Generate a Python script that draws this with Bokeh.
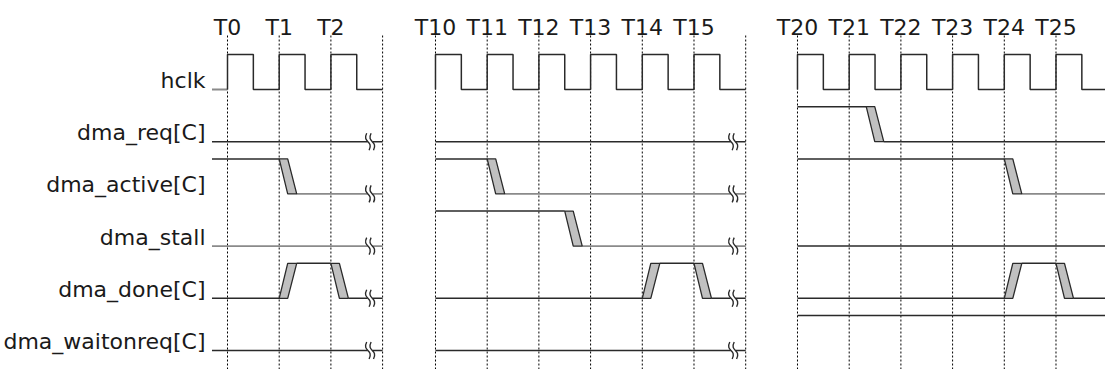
from bokeh.plotting import figure
from bokeh.models import Range1d
from bokeh.core.properties import value
from bokeh.embed import file_html
from bokeh.resources import INLINE

# ---------------- data ----------------
signals = ["hclk", "dma_req[C]", "dma_active[C]", "dma_stall", "dma_done[C]", "dma_waitonreq[C]"]

# three time windows of the diagram (in clock cycles)
panel_start = [-0.3, 10.0, 20.0]
panel_end = [3.0, 16.0, 26.0]

tick_cycles = [[0, 1, 2], [10, 11, 12, 13, 14, 15], [20, 21, 22, 23, 24, 25]]
tick_labels = [["T0", "T1", "T2"],
               ["T10", "T11", "T12", "T13", "T14", "T15"],
               ["T20", "T21", "T22", "T23", "T24", "T25"]]
grid_cycles = [[0, 1, 2, 3], [10, 11, 12, 13, 14, 15, 16], [20, 21, 22, 23, 24, 25]]

# hclk rising edges per window (falls half a cycle later)
clk_rise = [[0, 1, 2], [10, 11, 12, 13, 14, 15], [20, 21, 22, 23, 24, 25]]
clk_high_time = 0.5

# initial level of each signal in each window
init_level = {
    "dma_req[C]":       [0, 0, 1],
    "dma_active[C]":    [1, 1, 1],
    "dma_stall":        [0, 1, 0],
    "dma_done[C]":      [0, 0, 0],
    "dma_waitonreq[C]": [0, 0, 1],
}
# toggle times (cycles) of each signal in each window
toggles = {
    "dma_req[C]":       [[], [], [21.33]],
    "dma_active[C]":    [[1.0], [11.0], [24.0]],
    "dma_stall":        [[], [12.5], []],
    "dma_done[C]":      [[1.0, 2.0], [14.0, 15.0], [24.0, 25.0]],
    "dma_waitonreq[C]": [[], [], []],
}
# windows that end with a "time break" mark
break_panels = [0, 1]

# ---------------- layout / style ----------------
W, H = 1105, 369
PX = 51.7                 # pixels per cycle
X0 = 227                  # figure pixel of T0
panel_shift = [0.0, 4.023 - 10.0, 11.025 - 20.0]   # cycles -> diagram units
ROW_TOP = 54.0
ROW_PITCH = 52.2
SWING = 35.0
SLEW_A = 8.5 / PX
SLEW_B = 17.5 / PX
LABEL_X = (205 - X0) / PX
FONT = value("DejaVu Sans")
FSIZE = "22px"
DARK = "#2a2a2a"
GRAY = "#8a8a8a"
gray_low = {(0, "dma_active[C]"), (1, "dma_active[C]"), (2, "dma_active[C]"),
            (0, "dma_stall"), (1, "dma_stall")}


def ypos(row, level):
    top = ROW_TOP + ROW_PITCH * row
    return top if level == 1 else top + SWING


def u(panel, t):
    return t + panel_shift[panel]


p = figure(width=W, height=H, output_backend="svg", toolbar_location=None,
           x_range=Range1d(-X0 / PX, (W - X0) / PX), y_range=Range1d(H, 0),
           x_axis_type=None, y_axis_type=None, min_border=0,
           outline_line_color=None, background_fill_color="white",
           border_fill_color="white")
p.grid.visible = False

# dotted cycle lines
gx = [u(k, t) for k in range(3) for t in grid_cycles[k]]
p.segment(x0=gx, y0=[35] * len(gx), x1=gx, y1=[H] * len(gx),
          line_color="black", line_width=1, line_dash="2 2")

# time labels
tx = [u(k, t) for k in range(3) for t in tick_cycles[k]]
tt = [s for k in range(3) for s in tick_labels[k]]
p.text(x=tx, y=[27] * len(tx), text=tt, text_align="center", text_baseline="alphabetic",
       text_font=FONT, text_font_size=FSIZE, text_color="#1a1a1a")

# row labels
p.text(x=[LABEL_X] * len(signals), y=[ypos(i, 1) + 26 for i in range(len(signals))],
       text=signals, text_align="right", text_baseline="alphabetic",
       text_font=FONT, text_font_size=FSIZE, text_color="#1a1a1a")

# clock
for k in range(3):
    lo, hi = ypos(0, 0), ypos(0, 1)
    xs, ys = [], []
    start = panel_start[k]
    if start < clk_rise[k][0]:
        p.line([u(k, start), u(k, clk_rise[k][0])], [lo, lo], line_color=GRAY, line_width=1.8)
    for r in clk_rise[k]:
        xs += [u(k, r), u(k, r), u(k, r + clk_high_time), u(k, r + clk_high_time)]
        ys += [lo, hi, hi, lo]
    xs.append(u(k, panel_end[k]))
    ys.append(lo)
    p.line(xs, ys, line_color=DARK, line_width=1.5)

# other signals
seg_x, seg_y, seg_c, seg_w = [], [], [], []
poly_x, poly_y = [], []
brk = []
for i, name in enumerate(signals[1:], start=1):
    for k in range(3):
        lev = init_level[name][k]
        cur = panel_start[k]
        for t in toggles[name][k]:
            seg_x.append([u(k, cur), u(k, t)])
            seg_y.append([ypos(i, lev), ypos(i, lev)])
            seg_c.append(GRAY if (lev == 0 and (k, name) in gray_low) else DARK)
            seg_w.append(1.9 if seg_c[-1] == GRAY else 1.5)
            poly_x.append([u(k, t), u(k, t) + SLEW_A, u(k, t) + SLEW_B, u(k, t) + SLEW_A])
            poly_y.append([ypos(i, lev), ypos(i, lev), ypos(i, 1 - lev), ypos(i, 1 - lev)])
            cur = t + SLEW_B
            lev = 1 - lev
        seg_x.append([u(k, cur), u(k, panel_end[k])])
        seg_y.append([ypos(i, lev), ypos(i, lev)])
        seg_c.append(GRAY if (lev == 0 and (k, name) in gray_low) else DARK)
        seg_w.append(1.9 if seg_c[-1] == GRAY else 1.5)
        if k in break_panels:
            brk.append((u(k, panel_end[k]) - 12.5 / PX, ypos(i, lev)))

p.multi_line(xs=seg_x, ys=seg_y, line_color=seg_c, line_width=seg_w)
p.patches(xs=poly_x, ys=poly_y, fill_color="#c0c0c0", line_color=DARK, line_width=1.3)

# time-break marks
if brk:
    bx = [b[0] for b in brk]
    by = [b[1] for b in brk]
    d = 1.0 / PX
    p.quad(left=[x - 2.5 * d for x in bx], right=[x + 2.5 * d for x in bx],
           top=[y - 2.5 for y in by], bottom=[y + 2.5 for y in by],
           fill_color="white", line_color=None)
    for off in (-2.2, 2.2):
        p.bezier(x0=[x + (off + 1.2) * d for x in bx], y0=[y + 8.5 for y in by],
                 x1=[x + (off - 1.2) * d for x in bx], y1=[y - 8.5 for y in by],
                 cx0=[x + (off + 6) * d for x in bx], cy0=[y - 1 for y in by],
                 cx1=[x + (off - 6) * d for x in bx], cy1=[y + 1 for y in by],
                 line_color=DARK, line_width=1.4)

open("out.html", "w").write(file_html(p, INLINE))
